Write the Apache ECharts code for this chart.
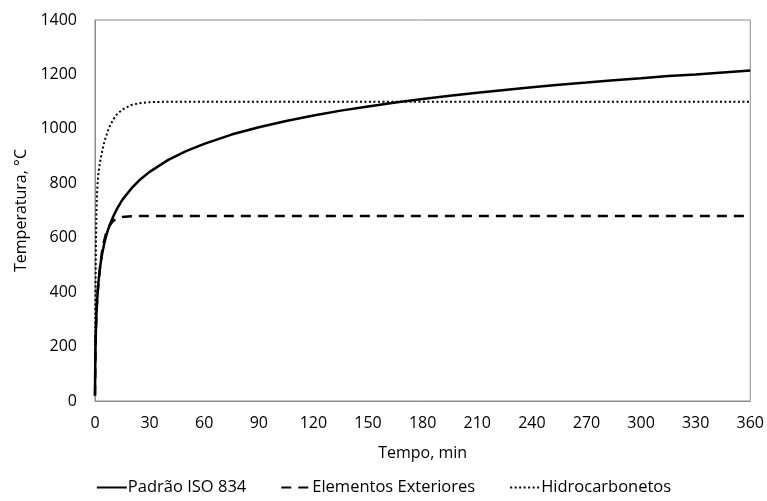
<!DOCTYPE html>
<html>
<head>
<meta charset="utf-8">
<script src="https://cdn.jsdelivr.net/npm/echarts@6/dist/echarts.min.js"></script>
<style>
  html, body { margin: 0; padding: 0; background: #fff; }
  #chart { width: 767px; height: 501px; }
</style>
</head>
<body>
<div id="chart"></div>
<script>
// time (min) and temperature (°C)
const isoTime = [0, 0.1, 0.25, 0.5, 0.75, 1, 1.5, 2, 3, 4, 5, 6, 7, 8, 10, 12, 15, 20, 25, 30, 40, 45, 50, 60, 75, 90, 105, 120, 135, 150, 165, 180, 195, 210, 225, 240, 255, 270, 285, 300, 315, 330, 345, 360]
const isoTemp = [20, 108, 185, 261, 312, 349, 404, 444, 502, 544, 576, 603, 626, 645, 678, 705, 739, 781, 815, 842, 885, 902, 918, 945, 979, 1006, 1029, 1049, 1067, 1082, 1097, 1110, 1122, 1133, 1143, 1153, 1162, 1170, 1179, 1186, 1194, 1200, 1207, 1214]

const extTime = [0, 0.25, 0.5, 1, 1.5, 2, 3, 4, 5, 6, 7, 8, 10, 12, 15, 20, 30, 60, 120, 180, 240, 300, 360]
const extTemp = [20, 182, 263, 346, 399, 441, 506, 554, 588, 614, 632, 645, 662, 670, 676, 679, 680, 680, 680, 680, 680, 680, 680]

const hcTime = [0, 0.25, 0.5, 0.75, 1, 1.5, 2, 3, 4, 5, 6, 7, 8, 10, 12, 15, 20, 25, 30, 35, 40, 60, 120, 180, 240, 300, 360]
const hcTemp = [20, 373, 568, 678, 743, 810, 844, 887, 920, 948, 971, 991, 1008, 1034, 1053, 1071, 1088, 1095, 1098, 1099, 1100, 1100, 1100, 1100, 1100, 1100, 1100]

const seriesNames = ['Padrão ISO 834', 'Elementos Exteriores', 'Hidrocarbonetos']

const pairs = (xs, ys) => xs.map((x, i) => [x, ys[i]])

const font = 'Open Sans'
const axisGray = '#8c8c8c'

const chart = echarts.init(document.getElementById('chart'))

const option = {
  animation: false,
  textStyle: { fontFamily: font },
  grid: {
    left: 95, right: 15, top: 20, bottom: 100,
    show: true, borderColor: axisGray, borderWidth: 1
  },
  legend: {
    bottom: 0,
    left: 'center',
    itemWidth: 30,
    itemHeight: 10,
    itemGap: 34,
    itemStyle: { opacity: 0 },
    textStyle: { fontSize: 16.5, color: '#000', fontFamily: font, padding: [0, 0, 0, -4] },
    data: seriesNames
  },
  xAxis: {
    type: 'value',
    min: 0, max: 360, interval: 30,
    name: 'Tempo, min',
    nameLocation: 'middle',
    nameGap: 44,
    nameTextStyle: { fontSize: 16, color: '#000' },
    axisLine: { show: true, lineStyle: { color: axisGray } },
    axisTick: { show: false },
    splitLine: { show: false },
    axisLabel: { fontSize: 16, color: '#000', margin: 14 }
  },
  yAxis: {
    type: 'value',
    min: 0, max: 1400, interval: 200,
    name: 'Temperatura, °C',
    nameLocation: 'middle',
    nameGap: 66,
    nameTextStyle: { fontSize: 16, color: '#000' },
    axisLine: { show: true, lineStyle: { color: axisGray } },
    axisTick: { show: false },
    splitLine: { show: false },
    axisLabel: { fontSize: 16, color: '#000', margin: 18, formatter: (v) => String(v) }
  },
  series: [
    {
      name: seriesNames[1],
      type: 'line',
      data: pairs(extTime, extTemp),
      showSymbol: false,
      symbol: 'none',
      lineStyle: { color: '#000', width: 2.5, type: [10, 7] },
      itemStyle: { color: '#000' },
      z: 2
    },
    {
      name: seriesNames[2],
      type: 'line',
      data: pairs(hcTime, hcTemp),
      showSymbol: false,
      symbol: 'none',
      lineStyle: { color: '#000', width: 2, type: [2, 2.5] },
      itemStyle: { color: '#000' },
      z: 3
    },
    {
      name: seriesNames[0],
      type: 'line',
      data: pairs(isoTime, isoTemp),
      showSymbol: false,
      symbol: 'none',
      lineStyle: { color: '#000', width: 2.5 },
      itemStyle: { color: '#000' },
      z: 4
    }
  ]
}

chart.setOption(option)
</script>
</body>
</html>
